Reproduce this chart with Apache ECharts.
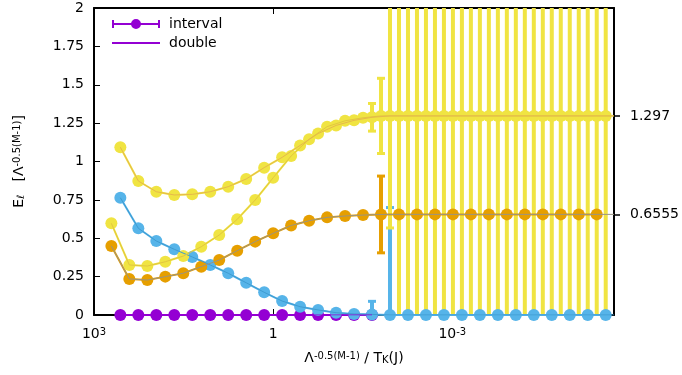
<!DOCTYPE html>
<html>
<head>
<meta charset="utf-8">
<script src="https://cdn.jsdelivr.net/npm/echarts@6/dist/echarts.min.js"></script>
<style>
  html, body { margin: 0; padding: 0; background: #fff; }
  #main { width: 682px; height: 375px; }
</style>
</head>
<body>
<div id="main"></div>
<script>
// x values (Λ^-0.5(M-1) / T_K), two interleaved point sets
var xA = [362, 181, 90.5, 45.25, 22.63, 11.31, 5.657, 2.828, 1.414, 0.7071, 0.3536, 0.1768, 0.08839, 0.04419,
  0.0221, 0.01105, 0.005524, 0.002762, 0.001381, 6.905e-4, 3.453e-4, 1.726e-4, 8.632e-5, 4.316e-5,
  2.158e-5, 1.079e-5, 5.395e-6, 2.697e-6];
var xB = [512, 256, 128, 64, 32, 16, 8, 4, 2, 1, 0.5, 0.25, 0.125, 0.0625, 0.03125, 0.01563, 0.007813,
  0.003906, 0.001953, 9.766e-4, 4.883e-4, 2.441e-4, 1.221e-4, 6.104e-5, 3.052e-5, 1.526e-5, 7.629e-6, 3.815e-6];
var xEnd = 1.96e-6; // where the double-precision curves end (right edge)

// E_l values
var purpleY = [0, 0, 0, 0, 0, 0, 0, 0, 0, 0, 0, 0, 0, 0, 0];
var blueY = [0.764, 0.565, 0.482, 0.428, 0.378, 0.326, 0.272, 0.21, 0.148, 0.091, 0.054, 0.033, 0.015, 0.007,
  0.004, 0, 0, 0, 0, 0, 0, 0, 0, 0, 0, 0, 0, 0];
var blueErr = [null, null, null, null, null, null, null, null, null, null, null, null, null, null,
  0.085, 0.70, null, null, null, null, null, null, null, null, null, null, null, null];
var orangeY = [0.45, 0.235, 0.228, 0.25, 0.272, 0.315, 0.358, 0.419, 0.478, 0.532, 0.583, 0.614, 0.636, 0.645,
  0.651, 0.655, 0.6555, 0.6555, 0.6555, 0.6555, 0.6555, 0.6555, 0.6555, 0.6555, 0.6555, 0.6555, 0.6555, 0.6555];
var orangeErr = [null, null, null, null, null, null, null, null, null, null, null, null, null, null, null,
  0.25, null, null, null, null, null, null, null, null, null, null, null, null];
var yellowAY = [1.093, 0.873, 0.803, 0.782, 0.786, 0.803, 0.836, 0.886, 0.96, 1.027, 1.105, 1.182, 1.235, 1.268,
  1.288, 1.297, 1.297, 1.297, 1.297, 1.297, 1.297, 1.297, 1.297, 1.297, 1.297, 1.297, 1.297, 1.297];
var yellowAErr = [null, null, null, null, null, null, null, null, null, null, null, null, null, null,
  0.09, 0.73, 3, 3, 3, 3, 3, 3, 3, 3, 3, 3, 3, 3];
var yellowBY = [0.597, 0.326, 0.319, 0.347, 0.384, 0.445, 0.521, 0.623, 0.749, 0.894, 1.036, 1.145, 1.227, 1.265,
  1.285, 1.297, 1.297, 1.297, 1.297, 1.297, 1.297, 1.297, 1.297, 1.297, 1.297, 1.297, 1.297, 1.297];
var yellowBErr = [null, null, null, null, null, null, null, null, null, null, null, null, null, null, null,
  0.245, 3, 3, 3, 3, 3, 3, 3, 3, 3, 3, 3, 3];

// limits shown on the right axis
var limits = [0.6555, 1.297];

var PURPLE = '#9400d3', BLUE = '#56b4e9', ORANGE = '#e69f00', YELLOW = '#f0e442';
var FONT = 'DejaVu Sans';

function pairs(xs, ys) {
  var out = [];
  for (var i = 0; i < ys.length; i++) out.push([xs[i], ys[i]]);
  return out;
}
function withEnd(xs, ys) {
  var out = pairs(xs, ys);
  out.push([xEnd, ys[ys.length - 1]]);
  return out;
}
function bars(xs, ys, errs) {
  var out = [];
  for (var i = 0; i < ys.length; i++) {
    if (errs[i] != null) out.push([xs[i], ys[i] - errs[i], ys[i] + errs[i]]);
  }
  return out;
}

function errorBar(color) {
  return function (params, api) {
    var top = api.coord([api.value(0), api.value(2)]);
    var bot = api.coord([api.value(0), api.value(1)]);
    var st = { stroke: color, lineWidth: 4 };
    var cap = { stroke: color, lineWidth: 3 };
    return {
      type: 'group',
      children: [
        { type: 'line', shape: { x1: top[0], y1: top[1], x2: bot[0], y2: bot[1] }, style: st },
        { type: 'line', shape: { x1: top[0] - 4, y1: top[1], x2: top[0] + 4, y2: top[1] }, style: cap },
        { type: 'line', shape: { x1: bot[0] - 4, y1: bot[1], x2: bot[0] + 4, y2: bot[1] }, style: cap }
      ]
    };
  };
}

function intervalLine(name, data, color) {
  return {
    name: name, type: 'line', data: data,
    symbol: 'circle', symbolSize: 12,
    itemStyle: { color: color },
    lineStyle: { color: color, width: 2 },
    emphasis: { disabled: true }
  };
}
function doubleLine(name, data, color) {
  return {
    name: name, type: 'line', data: data, symbol: 'none',
    itemStyle: { color: color },
    lineStyle: { color: color, width: 1 },
    emphasis: { disabled: true }, z: 5
  };
}
function barSeries(data, color) {
  return {
    type: 'custom', data: data, clip: true, z: 3,
    encode: { x: 0, y: [1, 2] },
    renderItem: errorBar(color)
  };
}

var supRich = {
  n: { fontSize: 14, fontFamily: FONT, color: '#000' },
  sup: { fontSize: 10, fontFamily: FONT, color: '#000', verticalAlign: 'top', lineHeight: 10 },
  sub: { fontSize: 10, fontFamily: FONT, color: '#000', verticalAlign: 'bottom', lineHeight: 10 }
};

var xTickLabel = {
  fontSize: 14, fontFamily: FONT, color: '#000', margin: 12,
  formatter: function (v) {
    var e = Math.round(Math.log10(v));
    if (Math.abs(Math.log10(v) - e) > 0.01) return '';
    if (e === 0) return '{n|1}';
    return '{n|10}{sup|' + e + '}';
  },
  rich: supRich
};

var chart = echarts.init(document.getElementById('main'));
var option = {
  animation: false,
  backgroundColor: '#fff',
  textStyle: { fontFamily: FONT },
  grid: { left: 94, right: 68, top: 8, bottom: 60 },
  legend: {
    orient: 'vertical', left: 112, top: 17, padding: 0,
    itemWidth: 48, itemHeight: 12, itemGap: 5,
    selectedMode: false,
    textStyle: { fontSize: 14, fontFamily: FONT, color: '#000', padding: [0, 0, 0, 4] },
    data: [
      { name: 'interval', icon: 'path://M0,2H2V5H46V2H48V10H46V7H2V10H0Z M19,6A5,5 0 0,1 29,6A5,5 0 0,1 19,6Z' },
      { name: 'double', icon: 'path://M0,0H48V2H0Z' }
    ]
  },
  xAxis: [
    {
      type: 'log', logBase: 1000, inverse: true, min: xEnd, max: 1000,
      position: 'bottom',
      name: '{n|Λ}{sup|-0.5(M-1)}{n| / T}{sub|K}{n|(J)}',
      nameLocation: 'middle', nameGap: 36,
      nameTextStyle: { rich: supRich },
      axisLine: { onZero: false, lineStyle: { color: '#000', width: 2 } },
      axisTick: { inside: true, length: 6, lineStyle: { color: '#000', width: 1 } },
      axisLabel: xTickLabel,
      splitLine: { show: false }
    },
    {
      type: 'log', logBase: 1000, inverse: true, min: xEnd, max: 1000,
      position: 'top',
      axisLine: { onZero: false, lineStyle: { color: '#000', width: 2 } },
      axisTick: { inside: true, length: 6, lineStyle: { color: '#000', width: 1 } },
      axisLabel: { show: false },
      splitLine: { show: false }
    }
  ],
  yAxis: [
    {
      type: 'value', min: 0, max: 2, interval: 0.25, position: 'left',
      name: '{n|E}{sub|ℓ}{n|   [Λ}{sup|-0.5(M-1)}{n|]}',
      nameLocation: 'middle', nameGap: 68, nameRotate: 90,
      nameTextStyle: { rich: supRich },
      axisLine: { show: true, lineStyle: { color: '#000', width: 2 } },
      axisTick: { show: true, inside: true, length: 6, lineStyle: { color: '#000', width: 1 } },
      axisLabel: { fontSize: 14, fontFamily: FONT, color: '#000', margin: 10 },
      splitLine: { show: false }
    },
    {
      type: 'value', min: 0, max: 2, position: 'right',
      axisLine: { show: true, lineStyle: { color: '#000', width: 2 } },
      axisTick: { show: true, length: 6, customValues: limits, lineStyle: { color: '#000', width: 1.5 } },
      axisLabel: {
        fontSize: 14, fontFamily: FONT, color: '#000', margin: 16, customValues: limits,
        formatter: function (v) { return String(v); }
      },
      splitLine: { show: false }
    }
  ],
  series: [
    intervalLine('interval', pairs(xA, purpleY), PURPLE),
    intervalLine('blueI', pairs(xA, blueY), BLUE),
    intervalLine('orangeI', pairs(xB, orangeY), ORANGE),
    intervalLine('yellowBI', pairs(xB, yellowBY), YELLOW),
    intervalLine('yellowAI', pairs(xA, yellowAY), YELLOW),
    barSeries(bars(xA, blueY, blueErr), BLUE),
    barSeries(bars(xB, orangeY, orangeErr), ORANGE),
    barSeries(bars(xB, yellowBY, yellowBErr), YELLOW),
    barSeries(bars(xA, yellowAY, yellowAErr), YELLOW),
    doubleLine('blueD', withEnd(xA, blueY), '#3f9bd0'),
    doubleLine('orangeD', withEnd(xB, orangeY), '#9a9482'),
    doubleLine('yellowBD', withEnd(xB, yellowBY), '#e2c640'),
    doubleLine('yellowAD', withEnd(xA, yellowAY), '#e6b84c'),
    doubleLine('double', pairs(xA, purpleY), PURPLE)
  ]
};
chart.setOption(option);
</script>
</body>
</html>
